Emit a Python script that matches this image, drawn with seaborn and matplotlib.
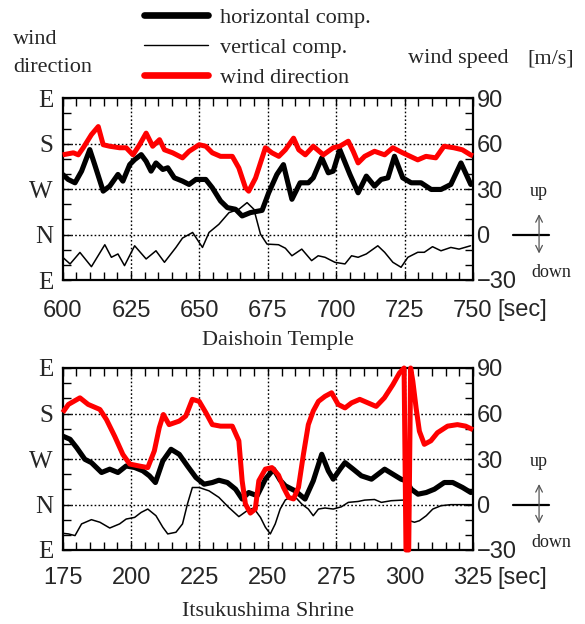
import matplotlib
matplotlib.use("Agg")
import matplotlib.pyplot as plt
from matplotlib.lines import Line2D
from matplotlib.ticker import MultipleLocator
from matplotlib import font_manager
import seaborn as sns

# ---------------- Daishoin Temple ----------------
dai_t_hor = [600, 602, 604.5, 606.9, 609.9, 611.7, 614.8, 617.2, 620.2, 622, 624.5, 626.3,
             628.7, 630.5, 632.3, 634.1, 636.6, 638.4, 640.8, 643.8, 646.2, 648.7, 652.3,
             654.7, 657.7, 660.2, 663.2, 665.6, 668.6, 672.9, 675.3, 678.3, 680.7, 683.8,
             686.8, 689.8, 691.6, 694.7, 697.1, 698.9, 701.3, 705, 708, 711, 714, 716.4,
             718.9, 721.3, 724.3, 727.4, 731, 734.7, 738.3, 741.9, 745.6, 749.2]
dai_hor = [39.7, 36.4, 34.2, 41.9, 56.1, 46.2, 28.7, 32, 39.7, 35.3, 46.2, 49.5,
           52.8, 48.4, 41.9, 47.3, 43, 44.1, 37.5, 35.3, 33.1, 36.4, 36.4,
           30.9, 22.2, 17.8, 16.7, 12.3, 14.5, 16, 27.6, 39.7, 46.2, 23.3,
           34.2, 34.2, 37.5, 50.6, 40.8, 41.9, 56.1, 39.7, 27.6, 38.6, 32, 36.4,
           37.5, 51.7, 37.5, 34.2, 34.2, 29.8, 29.8, 33.1, 47.3, 33.1]

dai_t_ver = [600, 602.7, 606.3, 610.5, 615.4, 617.8, 620.2, 622.6, 626.3, 630.5, 634.1,
             637.2, 641.4, 643.8, 647.5, 651.1, 653.5, 657.1, 660.8, 664.4, 667.4, 669.9,
             672.3, 674.7, 678.9, 681.4, 683.8, 687.4, 691, 693.4, 695.9, 699.5, 703.2,
             705.6, 708, 711, 715.2, 717.7, 720.7, 723.7, 726.2, 729.8, 732.2, 735.2,
             738.3, 741.9, 744.9, 749.1]
dai_ver = [-15, -19.4, -11.8, -21.2, -6.7, -15, -12.8, -20.5, -7.4, -16.1, -10.7,
           -18.3, -8.5, -2.3, 1.4, -8.5, 1.4, 6.8, 14.5, 16.7, 21.1, 16.7,
           0.3, -6.3, -6.7, -9, -14, -9.6, -17.2, -14, -15, -18.3, -19.4,
           -14, -15, -12.8, -7.4, -11.7, -18.3, -21.6, -15, -11.7, -11.7, -8,
           -10.7, -8.5, -9.6, -7.4]

# wind direction in degrees (90 = E, 180 = S, 270 = W, 360 = N, 450 = E)
dai_t_dir = [600, 603.9, 605.7, 607.5, 610.5, 613, 614.8, 617.2, 620.8, 623.2, 625.7,
             628.1, 630.5, 632.9, 635.4, 637.2, 640.2, 643.8, 646.2, 649.9, 652.3,
             654.7, 657.7, 662, 664.4, 666.8, 668, 670.5, 674.1, 676.5, 679, 681.4,
             684.4, 686.3, 688.7, 691.6, 695.3, 698.9, 701.3, 704.4, 706.2, 708,
             710.4, 714, 717.7, 720.7, 724.3, 729.8, 732.8, 736.4, 739.4, 743,
             746.1, 749.1, 750]
dai_dir = [202, 198, 202, 188, 162, 146, 182, 185, 188, 188, 202,
           182, 159, 185, 172, 192, 198, 208, 195, 182, 185,
           198, 205, 205, 228, 267, 274, 248, 188, 198, 205, 192,
           169, 192, 202, 185, 202, 188, 185, 175, 195, 218,
           205, 195, 202, 188, 198, 212, 205, 208, 185, 188,
           192, 202, 204]

# ---------------- Itsukushima Shrine ----------------
itk_t_hor = [175, 177.7, 180.1, 183.1, 185.5, 189.2, 192.2, 195.2, 198.2, 201.3, 204.3,
             206.7, 208.9, 211.6, 214.6, 217.6, 220.6, 223.7, 226.7, 229.7, 232.1,
             235.2, 238.2, 240.6, 243, 246.1, 249.1, 252.1, 254.5, 256.4, 260, 263.6,
             266.6, 269.7, 272.1, 273.9, 276.4, 278.2, 281.2, 284.2, 287.9, 290.3,
             292.7, 295.7, 298.7, 300.6, 302.4, 304.9, 307.9, 310.9, 314.5, 317.6,
             321.2, 324.2]
itk_hor = [45.1, 43, 37.5, 29.8, 27.6, 21.1, 23.3, 21.1, 25.4, 24.4, 22.2,
           18.9, 14.5, 28.7, 36.4, 33.1, 25.4, 17.8, 13.4, 14.5, 16,
           14.5, 10.1, 3.6, 7.9, 5.8, 16.7, 23.3, 16, 12.3, 9, 3.6,
           15.6, 33.1, 22.2, 16.7, 23.3, 27.6, 23.3, 18.9, 16.7, 20,
           23.3, 20, 16.7, 15.6, 10.1, 6.8, 7.9, 10.1, 14.5, 14.5,
           11.2, 7.9]

itk_t_ver = [175, 177.1, 179.5, 181.9, 185.5, 188.6, 192.2, 195.8, 198.2, 201.3, 203.7,
             206.1, 209.1, 211.6, 213.4, 216.4, 218.8, 220.6, 222.4, 224.9, 228.5,
             232.1, 235.7, 239.4, 242.4, 244.8, 247.3, 249.1, 250.9, 252.7, 254.5,
             256.4, 258.5, 260.5, 262.4, 264.8, 266.6, 268.5, 270.9, 273.9, 276.9,
             279.4, 283, 285.4, 289, 291.5, 295.1, 299.4, 300.6, 301.8, 303.6, 305.4,
             307.9, 310.3, 313.3, 316.9, 324.2, 325]
itk_ver = [-19, -19.4, -20.5, -12.8, -10, -11.7, -15.5, -12.8, -9.6, -8.5, -5.2,
           -3, -7.4, -15, -19.4, -18.3, -12.8, 0.3, 11.2, 11.2, 9,
           4.7, -1.9, -8, -4.1, -2.3, -8.5, -15, -19.4, -12.8, -3,
           3, 5, 4, 0.3, -3, -7.4, -3, -2.3, -3, -1.5,
           1.4, 2, 2.9, 3.3, 1.4, 2.5, 2.9, 1.4, -10.7, -11.7, -10.7,
           -7.4, -3, -0.8, -0.1, -0.1, -0.1]

itk_t_dir = [175, 177.1, 181.3, 184.3, 188.6, 191, 194, 197, 199.5, 203.1, 206.1,
             208.5, 210.3, 211.8, 213.9, 217.6, 220, 222.4, 224.9, 227.3, 229.7,
             232.7, 237, 239.4, 240.6, 241.8, 243.6, 245.4, 246.7, 249.1, 251.5,
             253.9, 255.7, 257.6, 259.4, 261.2, 263, 264.8, 266.6, 268.5, 270.9,
             273.3, 275.7, 278.2, 280.6, 283.6, 286.6, 289.6, 292.6, 295.7, 298.1,
             299.8, 300.5, 301.5, 302.2, 303, 304.2, 305.4, 307.2, 309.6, 312,
             315.7, 319.3, 322.3, 325]
itk_dir = [178, 162, 149, 162, 172, 192, 225, 261, 280, 284, 287,
           254, 208, 182, 202, 195, 185, 152, 156, 178, 202,
           205, 205, 234, 313, 359, 377, 369, 313, 290, 287,
           302, 326, 346, 349, 326, 261, 202, 175, 156, 146,
           139, 162, 169, 159, 152, 159, 166, 149, 123, 100,
           90, 450, 450, 90, 116, 169, 215, 241, 234, 218,
           205, 202, 205, 212]

dir_ticks = [90, 180, 270, 360, 450]
dir_labels = ["E", "S", "W", "N", "E"]
speed_ticks = [-30, 0, 30, 60, 90]
speed_labels = ["\u221230", "0", "30", "60", "90"]

sns.set_theme(style="white")
SERIF = ["Liberation Serif", "DejaVu Serif"]
plt.rcParams["font.family"] = SERIF

# narrow sans for the numbers, if present
try:
    font_manager.findfont("Liberation Sans Narrow", fallback_to_default=False)
    NUM_FAMILY, NUM_SIZE = ["Liberation Sans Narrow", "DejaVu Sans"], 18
except Exception:
    NUM_FAMILY, NUM_SIZE = ["Liberation Sans", "DejaVu Sans"], 17

W, H = 585, 624
fig = plt.figure(figsize=(W / 100, H / 100), dpi=100)


def fx(px):
    return px / W


def fy(py):
    return 1 - py / H


def panel(ax, t_hor, hor, t_ver, ver, t_dir, wdir, xlim, xpad):
    grid_kw = dict(color="black", linestyle=(0, (1.2, 1.6)), linewidth=1.0)
    sns.lineplot(x=t_hor, y=hor, ax=ax, color="black", linewidth=3.7,
                 estimator=None, sort=False, label="horizontal comp.")
    sns.lineplot(x=t_ver, y=ver, ax=ax, color="black", linewidth=1.1,
                 estimator=None, sort=False, label="vertical comp.")
    if ax.get_legend() is not None:
        ax.get_legend().remove()
    ax.set_xlabel("")
    ax.set_ylabel("")
    ax.grid(False)
    for v in range(xlim[0] + 25, xlim[1], 25):
        ax.axvline(v, zorder=1, **grid_kw)
    for v in (0, 30, 60):
        ax.axhline(v, zorder=1, **grid_kw)

    dax = ax.twinx()
    sns.lineplot(x=t_dir, y=wdir, ax=dax, color="#ff0000", linewidth=3.6,
                 estimator=None, sort=False, label="wind direction")
    line = dax.get_lines()[-1]
    line.set_clip_on(False)
    line.set_solid_capstyle("butt")
    if dax.get_legend() is not None:
        dax.get_legend().remove()
    dax.set_ylim(450, 90)
    dax.set_yticks(dir_ticks)
    dax.set_yticklabels(dir_labels)
    dax.yaxis.tick_left()
    dax.tick_params(axis="y", length=0, pad=7, labelsize=18)
    dax.set_ylabel("")
    for s in dax.spines.values():
        s.set_visible(False)

    # speed axis: labels on the right, inward ticks on all four sides
    ax.set_xlim(*xlim)
    ax.set_ylim(-30, 90)
    ax.set_xticks(list(range(xlim[0], xlim[1] + 1, 25)))
    ax.xaxis.set_minor_locator(MultipleLocator(5))
    ax.set_yticks(speed_ticks)
    ax.set_yticklabels(speed_labels)
    ax.yaxis.set_minor_locator(MultipleLocator(10))
    ax.yaxis.tick_right()
    ax.tick_params(axis="both", which="both", direction="in", length=6, width=1,
                   color="black", top=True, bottom=True, left=True, right=True,
                   labelleft=False, labelright=True, labelsize=NUM_SIZE)
    ax.tick_params(axis="y", which="major", pad=2.5)
    ax.tick_params(axis="x", which="major", pad=xpad)
    for lab in ax.get_xticklabels() + ax.get_yticklabels():
        lab.set_family(NUM_FAMILY)
    for s in ax.spines.values():
        s.set_color("black")
        s.set_linewidth(1.6)

    # up / down sketch beside the speed axis
    tr = ax.get_yaxis_transform()
    ax.plot([1.0975, 1.185], [0, 0], transform=tr, color="black", lw=1.6,
            clip_on=False)
    ax.annotate("", xy=(1.161, 13.5), xytext=(1.161, -12.5), xycoords=tr,
                textcoords=tr, annotation_clip=False,
                arrowprops=dict(arrowstyle="<->", color="#555555", lw=0.9,
                                shrinkA=0, shrinkB=0))
    ax.text(1.16, 28.5, "up", transform=tr, ha="center", va="center",
            fontsize=13, color="#222222")
    ax.text(1.19, -25, "down", transform=tr, ha="center", va="center",
            fontsize=13, color="#222222")
    return dax


ax1 = fig.add_axes([fx(62.7), fy(280), fx(473 - 62.7), (280 - 98.3) / H])
ax2 = fig.add_axes([fx(62.7), fy(550), fx(473 - 62.7), (550 - 368) / H])

panel(ax1, dai_t_hor, dai_hor, dai_t_ver, dai_ver, dai_t_dir, dai_dir,
      (600, 750), 14.5)
panel(ax2, itk_t_hor, itk_hor, itk_t_ver, itk_ver, itk_t_dir, itk_dir,
      (175, 325), 12.5)

fig.text(fx(522), fy(310), "[sec]", ha="center", va="center", fontsize=NUM_SIZE,
         family=NUM_FAMILY)
fig.text(fx(522), fy(578), "[sec]", ha="center", va="center", fontsize=NUM_SIZE,
         family=NUM_FAMILY)
fig.text(fx(278), fy(341), "Daishoin Temple", ha="center", va="center", fontsize=16)
fig.text(fx(268), fy(611), "Itsukushima Shrine", ha="center", va="center", fontsize=16)

fig.text(fx(13), fy(39), "wind", ha="left", va="center", fontsize=16)
fig.text(fx(13), fy(68), "direction", ha="left", va="center", fontsize=16)
fig.text(fx(408), fy(59), "wind speed", ha="left", va="center", fontsize=16)
fig.text(fx(527), fy(59), "[m/s]", ha="left", va="center", fontsize=16)

handles = [Line2D([], [], color="black", lw=4.8),
           Line2D([], [], color="black", lw=1.0),
           Line2D([], [], color="#ff0000", lw=4.8)]
labels = ["horizontal comp.", "vertical comp.", "wind direction"]
fig.legend(handles, labels, loc="upper left", bbox_to_anchor=(fx(140), fy(3)),
           frameon=False, fontsize=16, handlelength=2.85, handletextpad=0.55,
           labelspacing=0.42, borderaxespad=0, borderpad=0.2)

fig.savefig("out.png", dpi=100, facecolor="white")
